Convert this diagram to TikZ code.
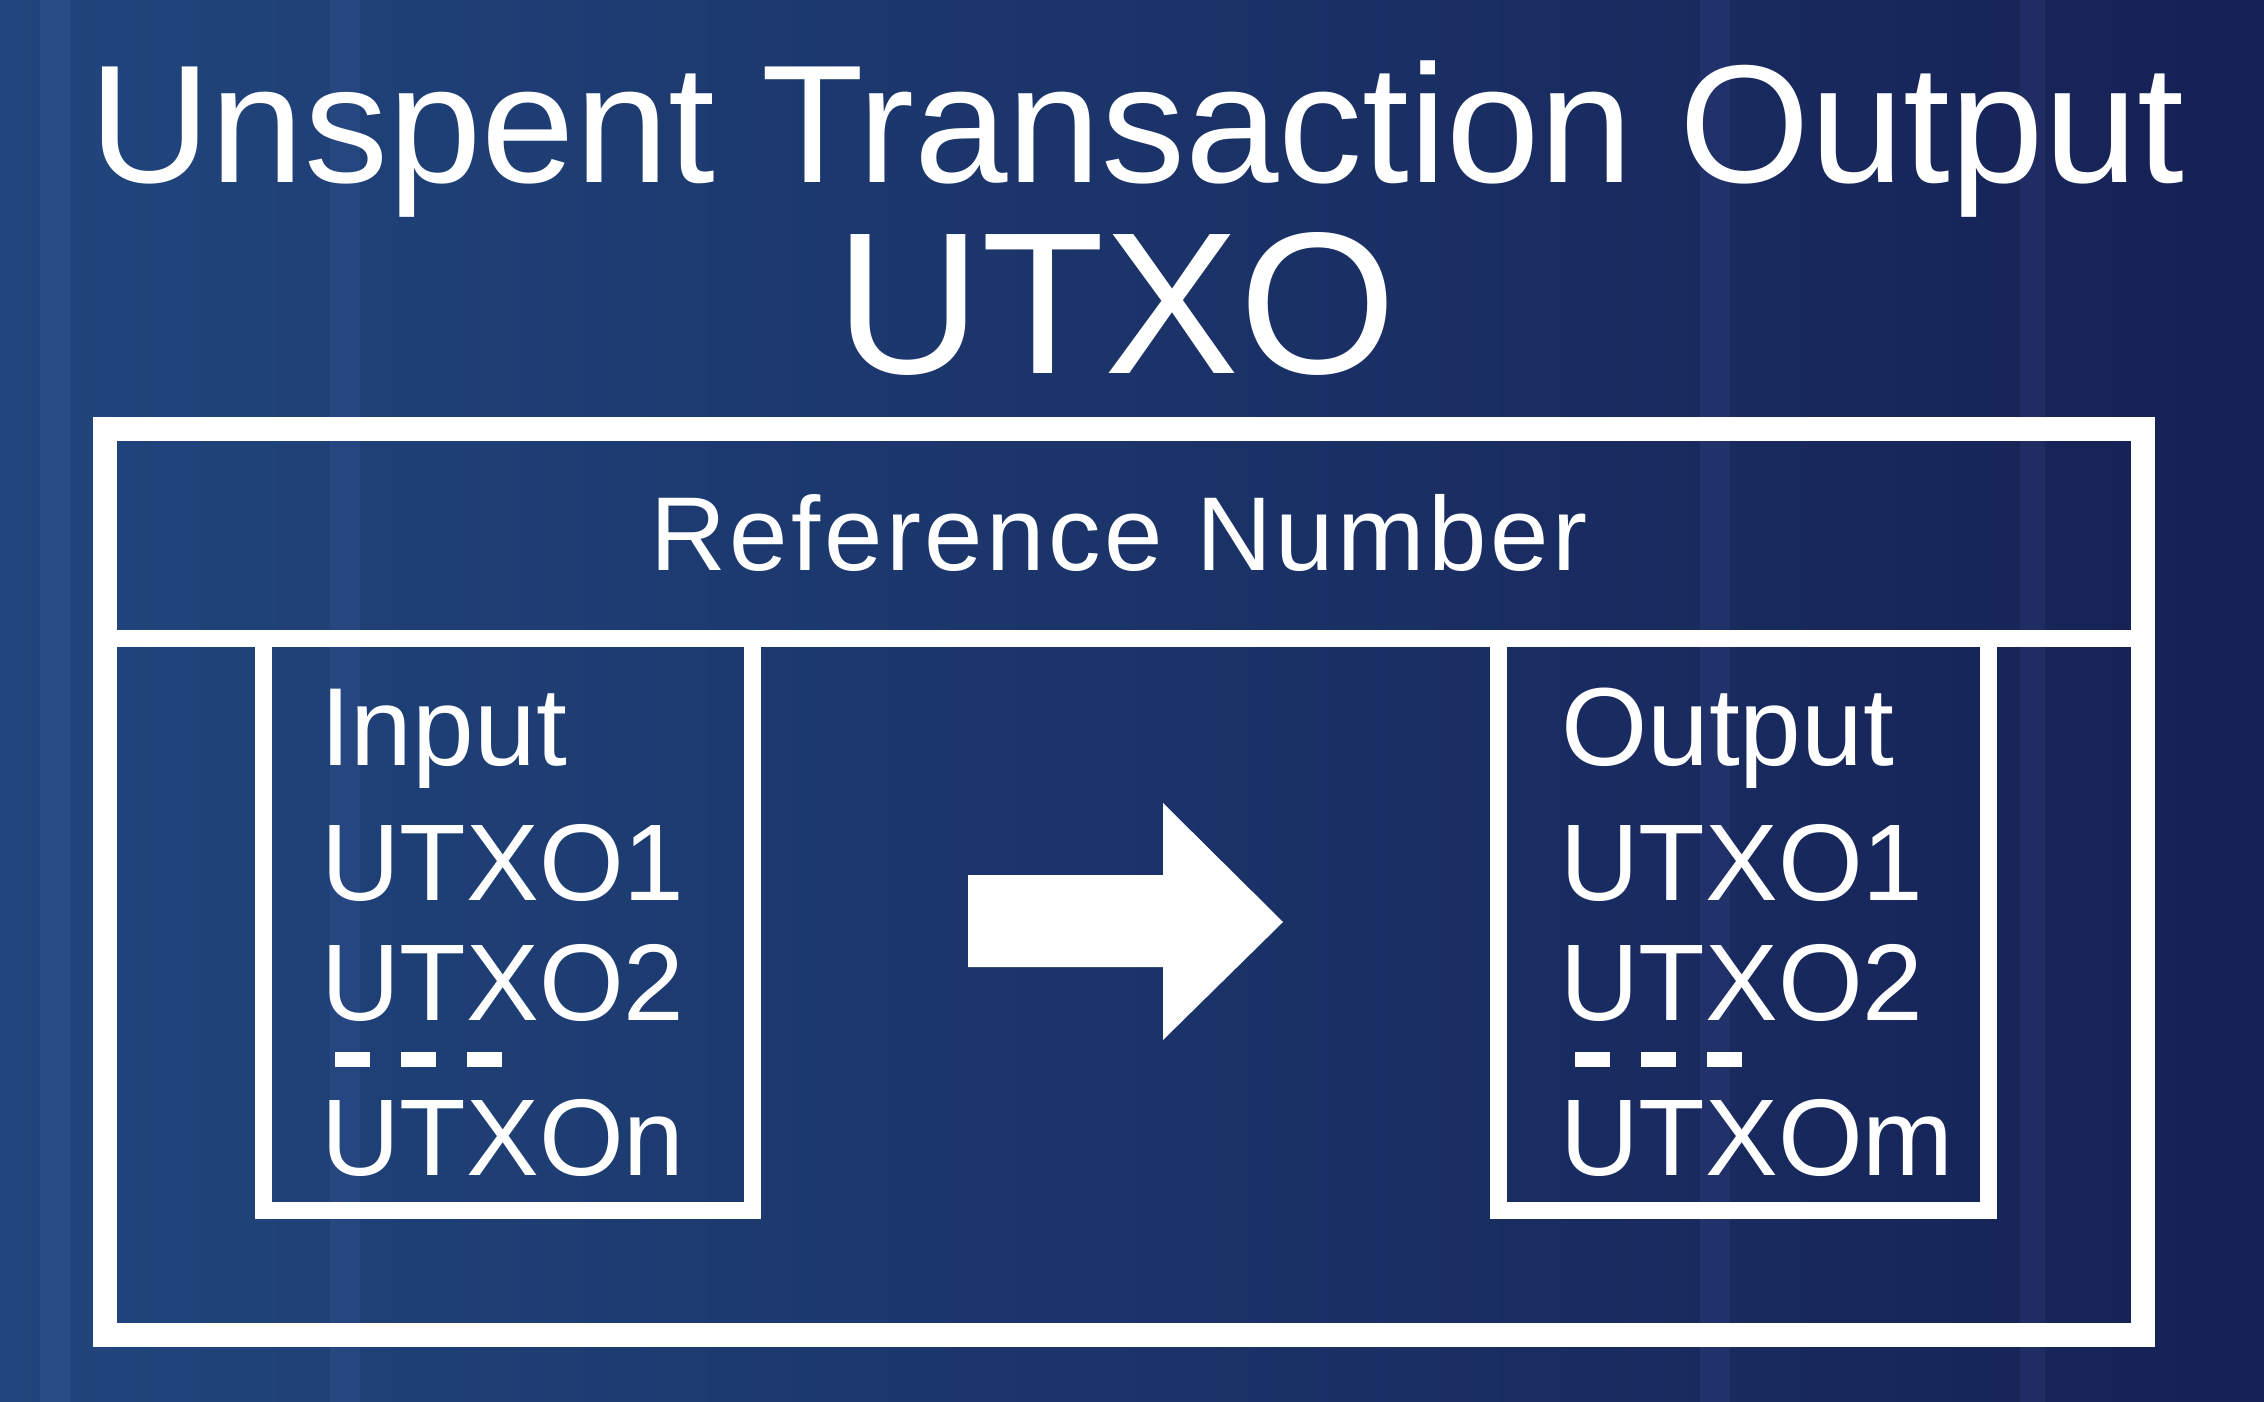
\documentclass[tikz,border=0pt]{standalone}
\usepackage{fontspec}
\setmainfont{Liberation Sans}
\newfontfamily\reffont[LetterSpace=3.4]{Liberation Sans}
\definecolor{bgL}{RGB}{32,70,125}
\definecolor{bgM}{RGB}{26,42,100}
\definecolor{bgR}{RGB}{22,33,85}
\tikzset{
  frame/.style={draw=white, line width=#1, rectangle, inner sep=0pt, outer sep=0pt},
  txt/.style={text=white, inner sep=0pt, outer sep=0pt, anchor=base west, font=\fontsize{109pt}{109pt}\selectfont},
  headtxt/.style={txt, font=\fontsize{111pt}{111pt}\selectfont},
  streak/.style={fill=#1, opacity=0.07}
}
\begin{document}
\begin{tikzpicture}[x=1pt,y=-1pt]
\useasboundingbox (0,0) rectangle (2264,1402);
% background
\shade[left color=bgL, middle color=bgM, right color=bgR] (0,0) rectangle (2264,1402);
\fill[streak=white!70!blue] (40,0) rectangle (70,1402);
\fill[streak=white!60!blue] (330,0) rectangle (360,1402);
\fill[streak=white!60!blue] (1700,0) rectangle (1730,1402);
\fill[streak=white!60!blue] (2020,0) rectangle (2045,1402);

% title
\node[text=white, inner sep=0pt, anchor=base, font=\fontsize{168pt}{168pt}\selectfont] (title) at (1137,182) {Unspent Transaction Output};
\node[text=white, inner sep=0pt, anchor=base, font=\fontsize{202pt}{202pt}\selectfont] (utxo) at (1116,373) {UTXO};

% outer box
\node[frame=24pt, minimum width=2038pt, minimum height=906pt] (outer) at (1124,882) {};
\coordinate (divL) at (105,638);
\coordinate (divR) at (2143,638);
\draw[white, line width=17pt] (divL) -- (divR);
\node[text=white, inner sep=0pt, anchor=base, font=\reffont\fontsize{105pt}{105pt}\selectfont] (ref) at (1119,570) {Reference Number};

% input box
\node[frame=17pt, minimum width=489pt, minimum height=572pt] (inbox) at (507.5,924) {};
\node[headtxt] (in0) at (320,765) {Input};
\node[txt] (in1) at (321,900) {UTXO1};
\node[txt] (in2) at (321,1020) {UTXO2};
\node[txt] (in3) at (321,1175) {UTXOn};
\coordinate (ind1) at (335,1059);
\coordinate (ind2) at (502,1059);
\draw[white, line width=15pt, dash pattern=on 35pt off 31pt] (ind1) -- (ind2);

% output box
\node[frame=17pt, minimum width=490pt, minimum height=572pt] (outbox) at (1743,924) {};
\node[headtxt] (out0) at (1561,765) {Output};
\node[txt] (out1) at (1560,900) {UTXO1};
\node[txt] (out2) at (1560,1020) {UTXO2};
\node[txt] (out3) at (1560,1175) {UTXOm};
\coordinate (outd1) at (1575,1059);
\coordinate (outd2) at (1742,1059);
\draw[white, line width=15pt, dash pattern=on 35pt off 31pt] (outd1) -- (outd2);

% arrow
\coordinate (a1) at (968,875);
\coordinate (a2) at (1163,875);
\coordinate (a3) at (1163,803);
\coordinate (a4) at (1283,922);
\coordinate (a5) at (1163,1040);
\coordinate (a6) at (1163,967);
\coordinate (a7) at (968,967);
\fill[white] (a1) -- (a2) -- (a3) -- (a4) -- (a5) -- (a6) -- (a7) -- cycle;
\end{tikzpicture}
\end{document}
